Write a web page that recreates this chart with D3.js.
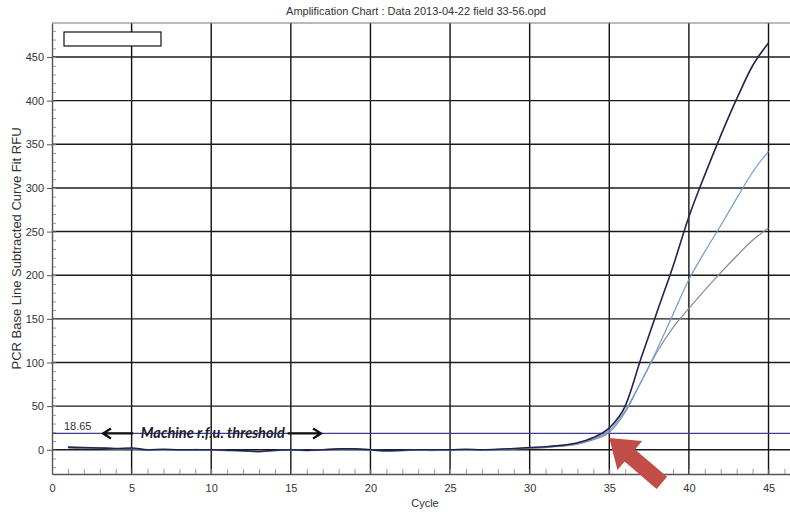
<!DOCTYPE html>
<html>
<head>
<meta charset="utf-8">
<script src="https://cdn.jsdelivr.net/npm/d3@7"></script>
<style>
  body { margin: 0; background: #fff; }
  svg { display: block; font-family: Arial, "Liberation Sans", sans-serif; }
</style>
</head>
<body>
<svg id="chart" width="790" height="513"></svg>
<script>
const cycles = d3.range(1, 46);

const wellA = [3, 2.5, 2, 1.5, 2, 0, 0.5, 0, 0, 0, -0.5, -1, -2, -0.5, 0,
  -0.5, 0, 1, 1, 0, -1, -0.5, 0, 0, 0, 0.5, 0, 0.5, 1.5, 2.5,
  3.5, 5, 8, 14, 25, 50, 105, 158, 210, 267, 315, 360, 402, 440, 466];
const wellB = [2, 2, 1.5, 1, 1.5, -0.5, 0, -0.5, -0.5, 0, -1, -1.5, -2.5, -1, -0.5,
  -1, -0.5, 0.5, 0.5, -0.5, -1.5, -1, -0.5, -0.5, -0.5, 0, -0.5, 0, 1, 2,
  3, 4.5, 7, 12.5, 22, 45, 78, 115, 155, 195, 227, 257, 288, 318, 342];
const wellC = [2.5, 1.5, 2, 1, 1, 0, 0, -0.5, 0.5, -0.5, -1, -1, -1.5, -1, 0,
  -1, 0, 0.5, 1, -0.5, -1, -1, -0.5, -1, 0, 0, -0.5, 0.5, 1, 1.5,
  2.5, 4, 6.5, 11.5, 20, 43, 78, 112, 140, 162, 183, 203, 222, 240, 254];

const seriesNames = ["A", "B", "C"];
const seriesColors = ["#23234f", "#6f9dca", "#858b95"];
const seriesWidths = [1.6, 1.2, 1.2];

const xTicks = d3.range(0, 46, 5);
const yTicks = d3.range(0, 451, 50);
const threshold = 18.65;

const title = "Amplification Chart : Data 2013-04-22 field 33-56.opd";
const xLabel = "Cycle";
const yLabel = "PCR Base Line Subtracted Curve Fit RFU";
const note = "Machine r.f.u. threshold";

const svg = d3.select("#chart");
const width = 790, height = 513;
const margin = { top: 23, right: 0, bottom: 39, left: 52 };

const x = d3.scaleLinear()
  .domain([0, 46.35])
  .range([margin.left, width - margin.right]);
const y = d3.scaleLinear()
  .domain([-27.8, 489])
  .range([height - margin.bottom, margin.top]);

// Grid
svg.append("g")
  .selectAll("line")
  .data(xTicks.filter((d) => d > 0))
  .join("line")
  .attr("x1", (d) => x(d)).attr("x2", (d) => x(d))
  .attr("y1", y.range()[1]).attr("y2", y.range()[0])
  .attr("stroke", "#111").attr("stroke-width", 1.4);
svg.append("g")
  .selectAll("line")
  .data(yTicks)
  .join("line")
  .attr("x1", x.range()[0]).attr("x2", x.range()[1])
  .attr("y1", (d) => y(d)).attr("y2", (d) => y(d))
  .attr("stroke", "#1a1a1a").attr("stroke-width", 1.4);

// Minor ticks
svg.append("g")
  .call(d3.axisRight(y).tickValues(d3.range(-20, 481, 10)).tickSize(4).tickFormat(""))
  .attr("transform", `translate(${margin.left},0)`)
  .call((g) => g.select(".domain").remove())
  .call((g) => g.selectAll("line").attr("stroke", "#999"));
svg.append("g")
  .call(d3.axisTop(x).tickValues(d3.range(1, 47)).tickSize(5).tickFormat(""))
  .attr("transform", `translate(0,${height - margin.bottom})`)
  .call((g) => g.select(".domain").remove())
  .call((g) => g.selectAll("line").attr("stroke", "#999"));

// Left axis
svg.append("g")
  .call(d3.axisLeft(y).tickValues(yTicks).tickSize(5).tickSizeOuter(0))
  .attr("transform", `translate(${margin.left},0)`)
  .call((g) => g.select(".domain").attr("stroke", "#555").attr("stroke-width", 1.4))
  .call((g) => g.selectAll(".tick line").attr("stroke", "#555"))
  .call((g) => g.selectAll(".tick text").attr("fill", "#333").style("font-size", "11px")
    .style("font-family", "Arial, 'Liberation Sans', sans-serif"));

// Bottom axis
svg.append("g")
  .call(d3.axisBottom(x).tickValues(xTicks).tickSize(0).tickPadding(10).tickSizeOuter(0))
  .attr("transform", `translate(0,${height - margin.bottom})`)
  .call((g) => g.select(".domain").attr("stroke", "#555").attr("stroke-width", 1.4))
  .call((g) => g.selectAll(".tick text").attr("fill", "#333").style("font-size", "11px")
    .style("font-family", "Arial, 'Liberation Sans', sans-serif"));

// Top border
svg.append("line")
  .attr("x1", x.range()[0]).attr("x2", x.range()[1])
  .attr("y1", margin.top).attr("y2", margin.top)
  .attr("stroke", "#777").attr("stroke-width", 1.2);

// Threshold
svg.append("line")
  .attr("x1", x.range()[0]).attr("x2", x.range()[1])
  .attr("y1", y(threshold)).attr("y2", y(threshold))
  .attr("stroke", "#3b3f9a").attr("stroke-width", 1.3);
svg.append("text")
  .attr("x", x(0.75)).attr("y", y(threshold) - 3)
  .attr("fill", "#333").style("font-size", "11px")
  .text(threshold.toFixed(2));

// Curves
const wells = [wellA, wellB, wellC];
const line = d3.line()
  .curve(d3.curveMonotoneX)
  .x((d) => x(d.cycle))
  .y((d) => y(d.value));
svg.append("g")
  .selectAll("path")
  .data(wells.map((values, i) => ({
    name: seriesNames[i],
    color: seriesColors[i],
    strokeWidth: seriesWidths[i],
    points: values.map((value, j) => ({ cycle: cycles[j], value })),
  })).reverse())
  .join("path")
  .attr("fill", "none")
  .attr("stroke", (d) => d.color)
  .attr("stroke-width", (d) => d.strokeWidth)
  .attr("d", (d) => line(d.points));

// Annotation
const noteY = y(threshold);
svg.append("text")
  .attr("x", x(10.1)).attr("y", noteY + 5)
  .attr("text-anchor", "middle")
  .attr("fill", "#1c1c2e")
  .style("font-family", "Lato, 'Open Sans', sans-serif")
  .style("font-style", "italic").style("font-weight", "bold")
  .style("font-size", "14.5px")
  .text(note);
const arrowPath = (x1, x2, dir) => {
  const p = d3.path();
  p.moveTo(x1, noteY); p.lineTo(x2, noteY);
  p.moveTo(x2 - dir * 8, noteY - 5); p.lineTo(x2, noteY); p.lineTo(x2 - dir * 8, noteY + 5);
  return p.toString();
};
svg.append("path")
  .attr("d", arrowPath(x(5.1), x(3.2), -1))
  .attr("fill", "none").attr("stroke", "#111").attr("stroke-width", 2.2);
svg.append("path")
  .attr("d", arrowPath(x(14.8), x(16.9), 1))
  .attr("fill", "none").attr("stroke", "#111").attr("stroke-width", 2.2);

// Red arrow
const tip = [x(35.0), y(13.5)];
const tail = [x(38.3), y(-38)];
const angle = Math.atan2(tip[1] - tail[1], tip[0] - tail[0]) * 180 / Math.PI;
const len = Math.hypot(tip[0] - tail[0], tip[1] - tail[1]);
svg.append("path")
  .attr("transform", `translate(${tail[0]},${tail[1]}) rotate(${angle})`)
  .attr("d", `M0,-8 L${len - 27},-8 L${len - 27},-19 L${len},0 L${len - 27},19 L${len - 27},8 L0,8 Z`)
  .attr("fill", "#c24c48");

// Legend box
svg.append("rect")
  .attr("x", 64).attr("y", 32).attr("width", 97).attr("height", 14)
  .attr("fill", "#fff").attr("stroke", "#111").attr("stroke-width", 1.2);

// Titles
svg.append("text")
  .attr("x", 416).attr("y", 15)
  .attr("text-anchor", "middle").attr("fill", "#333")
  .style("font-size", "11px")
  .text(title);
svg.append("text")
  .attr("x", 425).attr("y", 507)
  .attr("text-anchor", "middle").attr("fill", "#333")
  .style("font-size", "11px")
  .text(xLabel);
svg.append("text")
  .attr("transform", `translate(21,${(margin.top + height - margin.bottom) / 2}) rotate(-90)`)
  .attr("text-anchor", "middle").attr("fill", "#333")
  .style("font-size", "13px")
  .text(yLabel);
</script>
</body>
</html>
